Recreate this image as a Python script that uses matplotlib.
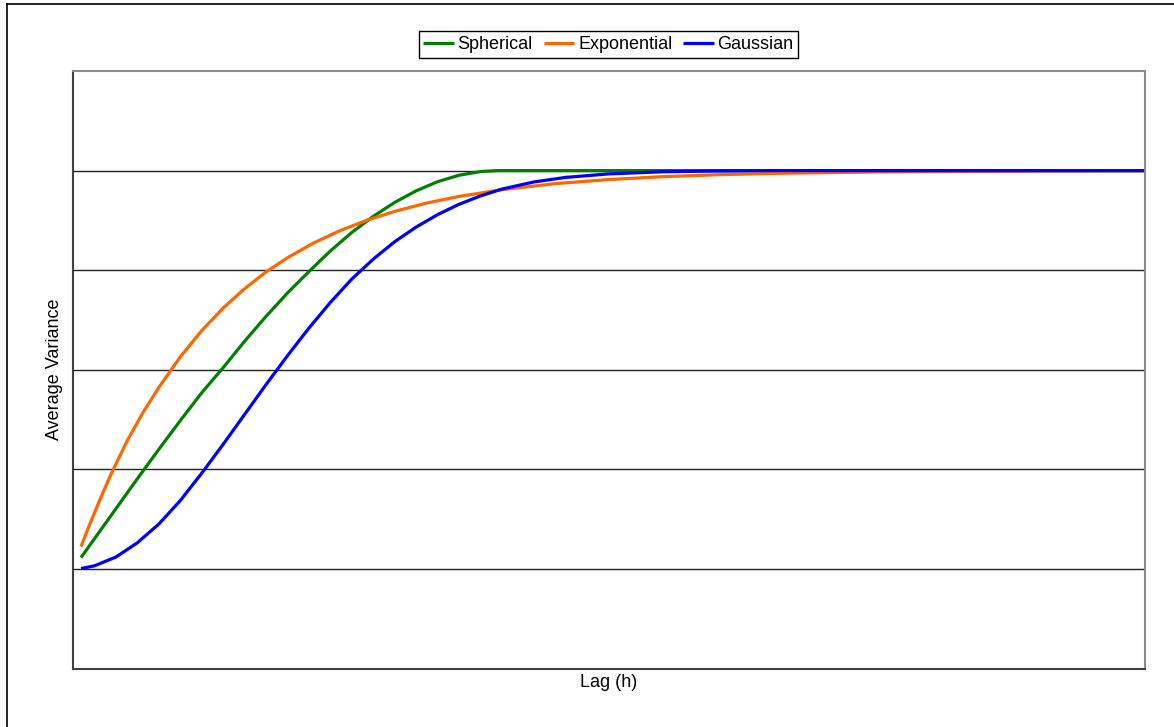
import matplotlib
matplotlib.use("Agg")
import matplotlib.pyplot as plt
from matplotlib.lines import Line2D

plt.rcParams['font.family'] = ['Liberation Sans', 'DejaVu Sans']

# ---- data ----
sph_x = [0.75, 2, 4, 6, 8, 10, 12, 14, 16, 18, 20, 22, 24, 26, 28, 30, 32, 34, 36, 38, 39.6, 50, 100]
sph_y = [1.114, 1.303, 1.604, 1.905, 2.200, 2.488, 2.768, 3.020, 3.285, 3.535, 3.770, 3.985, 4.192, 4.378,
         4.540, 4.680, 4.796, 4.888, 4.953, 4.990, 5.000, 5.000, 5.000]

exp_x = [0.75, 1.5, 2.5, 3.5, 5, 6.5, 8, 10, 12, 14, 16, 18, 20, 22.5, 25, 27.5, 30, 33, 36, 40,
         45, 50, 55, 60, 65, 70, 75, 80, 90, 100]
exp_y = [1.225, 1.431, 1.692, 1.940, 2.275, 2.565, 2.821, 3.128, 3.392, 3.619, 3.813, 3.982, 4.124, 4.276,
         4.401, 4.504, 4.590, 4.674, 4.740, 4.808, 4.869, 4.910, 4.939, 4.958, 4.971, 4.979, 4.986, 4.990,
         4.995, 4.998]

gau_x = [0.75, 2, 4, 6, 8, 10, 12, 14, 16, 18, 20, 22, 24, 26, 28, 30, 32, 34, 36, 38, 40, 43, 46, 50,
         55, 60, 65, 100]
gau_y = [1.004, 1.031, 1.119, 1.262, 1.450, 1.685, 1.960, 2.250, 2.550, 2.850, 3.140, 3.417, 3.675, 3.910,
         4.110, 4.285, 4.432, 4.557, 4.661, 4.745, 4.814, 4.886, 4.932, 4.967, 4.988, 4.996, 5.000, 5.000]

labels = ["Spherical", "Exponential", "Gaussian"]
colors = ["#008000", "#FF6600", "#0000FF"]

W, H = 1174, 727
fig = plt.figure(figsize=(W / 100, H / 100), dpi=100)
ax = fig.add_axes([73 / W, 1 - 668.5 / H, (1145 - 73) / W, (668.5 - 71) / H])

for xs, ys, lab, c in zip([sph_x, exp_x, gau_x], [sph_y, exp_y, gau_y], labels, colors):
    ax.plot(xs, ys, color=c, lw=2.3, label=lab, solid_capstyle='butt', solid_joinstyle='round')

ax.set_xlim(0, 100)
ax.set_ylim(0, 6)
ax.set_yticks([1, 2, 3, 4, 5])
ax.set_xticks([])
ax.yaxis.grid(True, color='#222222', lw=1.0)
ax.set_axisbelow(True)
ax.tick_params(axis='y', length=0, labelleft=False)

for s in ['left', 'bottom']:
    ax.spines[s].set_color('#404040')
    ax.spines[s].set_linewidth(1.5)
for s in ['top', 'right']:
    ax.spines[s].set_color('#8c8c8c')
    ax.spines[s].set_linewidth(1.5)

ax.set_ylabel("Average Variance", fontsize=13, labelpad=7)
ax.set_xlabel("Lag (h)", fontsize=13, labelpad=4)

leg = fig.legend(loc='center', bbox_to_anchor=(608.5 / W, 1 - 44.5 / H), ncol=3, fontsize=13,
                 frameon=True, fancybox=False, edgecolor='black', framealpha=1,
                 handlelength=1.7, handletextpad=0.2, columnspacing=0.6, borderpad=0.25)
leg.get_frame().set_linewidth(1.0)

# figure border (top and left visible)
fig.add_artist(Line2D([7.3 / W, 1.0], [1 - 4.3 / H, 1 - 4.3 / H], color='black', lw=1.2,
                      transform=fig.transFigure))
fig.add_artist(Line2D([7.3 / W, 7.3 / W], [0.0, 1 - 4.3 / H], color='black', lw=1.2,
                      transform=fig.transFigure))

fig.savefig("out.png", dpi=100)
